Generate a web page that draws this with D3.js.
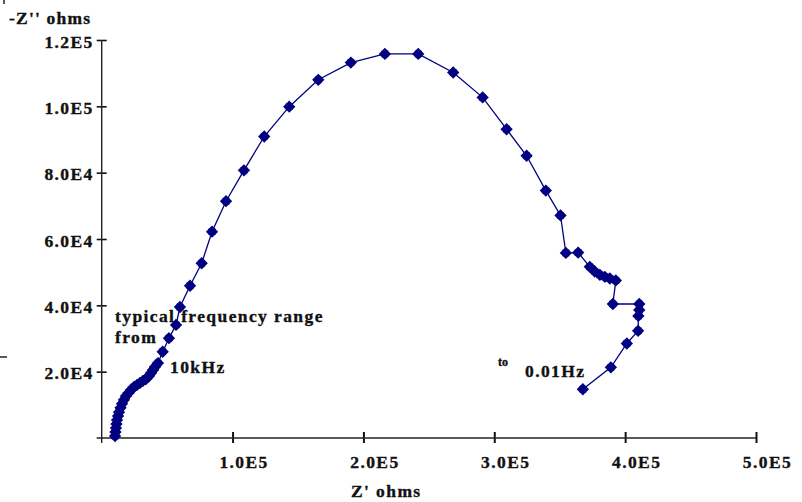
<!DOCTYPE html>
<html>
<head>
<meta charset="utf-8">
<script src="https://cdn.jsdelivr.net/npm/d3@7"></script>
<style>
  body { margin: 0; background: #fff; }
  text { font-family: "Liberation Serif", "Times New Roman", serif; font-weight: bold; fill: #111; stroke: #111; stroke-width: 0.35px; }
</style>
</head>
<body>
<div class="chart"></div>
<script>
// Nyquist plot, Z' vs -Z'' (ohms), from 10kHz down to 0.01Hz
var zReal = [10200, 10500, 10900, 11300, 11700, 12500, 13200, 14400, 15500, 17000,
             18600, 20500, 22400, 24700, 27000, 29300, 31500, 33800, 36100, 37700,
             39200, 40700, 43000, 46600, 51400, 56800, 59800, 67500, 76400, 84300,
             95000, 108700, 124200, 143300, 165500, 190400, 216400, 241900, 268600, 291100,
             309400, 324700, 339400, 350600, 354700, 364100, 373000, 376800, 380700, 384500,
             388300, 392900, 390600, 410800, 410800, 410100, 409900, 401300, 389100, 367700];
var zImag = [600, 1800, 3000, 4200, 5400, 6600, 7800, 9100, 10300, 11500,
             12700, 13600, 14500, 15400, 16000, 16600, 17200, 17800, 18700, 19600,
             20500, 21400, 22600, 26000, 30100, 34100, 39500, 45900, 52700, 62200,
             71400, 80700, 90900, 99900, 108000, 113200, 115800, 115800, 110200, 102700,
             93100, 85100, 74600, 67100, 55800, 55900, 51600, 50200, 49200, 48600,
             48100, 47500, 40400, 40400, 38600, 36800, 32300, 28500, 21300, 14700];
var xTicks = [1e5, 2e5, 3e5, 4e5, 5e5];
var yTicks = [2e4, 4e4, 6e4, 8e4, 1e5, 1.2e5];

var w = 802, h = 502;
var navy = "#000080";

var svg = d3.select(".chart").append("svg")
            .attr("width", w)
            .attr("height", h);

var x = d3.scaleLinear().domain([0, 5e5]).range([101.7, 756]);
var y = d3.scaleLinear().domain([0, 1.2e5]).range([438, 40]);

var sci = function(d) {
  var e = Math.floor(Math.log10(d));
  return (d / Math.pow(10, e)).toFixed(1) + "E" + e;
};

// axes
var xAxis = svg.append("g")
               .attr("transform", "translate(0," + y(0) + ")")
               .call(d3.axisBottom(x).tickValues(xTicks).tickSize(0).tickFormat(sci));
xAxis.select(".domain").remove();
xAxis.append("line")
     .attr("x1", x(0) - 5).attr("x2", x(5e5))
     .attr("stroke", "#222").attr("stroke-width", 1.4);
xAxis.selectAll(".tick line")
     .attr("y1", -6).attr("y2", 5)
     .attr("stroke", "#111").attr("stroke-width", 2);
xAxis.selectAll(".tick text")
     .attr("x", 11).attr("y", 30).attr("dy", null)
     .style("font-size", "17.5px")
     .attr("letter-spacing", "1.4px")
     .attr("font-family", null).attr("font-size", null);

var yAxis = svg.append("g")
               .attr("transform", "translate(" + x(0) + ",0)")
               .call(d3.axisLeft(y).tickValues(yTicks).tickSize(0).tickFormat(sci));
yAxis.select(".domain").remove();
yAxis.append("line")
     .attr("y1", y(0) + 5).attr("y2", y(1.2e5))
     .attr("stroke", "#222").attr("stroke-width", 1.4);
yAxis.selectAll(".tick line")
     .attr("x1", -5).attr("x2", 5)
     .attr("stroke", "#111").attr("stroke-width", 1.6);
yAxis.selectAll(".tick text")
     .attr("x", -8).attr("dy", "0.4em")
     .style("font-size", "17.5px")
     .attr("letter-spacing", "1.4px")
     .attr("font-family", null).attr("font-size", null);

// axis titles
svg.append("text").attr("x", 9).attr("y", 24)
   .style("font-size", "17.5px").attr("letter-spacing", "1.2px")
   .text("-Z'' ohms");
svg.append("text").attr("x", 351).attr("y", 497)
   .style("font-size", "17.5px").attr("letter-spacing", "1.4px")
   .text("Z' ohms");

// curve
var pts = zReal.map(function(d, i) { return [d, zImag[i]]; });
var line = d3.line().x(function(d) { return x(d[0]); }).y(function(d) { return y(d[1]); });

svg.append("path")
   .datum(pts)
   .attr("d", line)
   .attr("fill", "none")
   .attr("stroke", navy)
   .attr("stroke-width", 1.3);

// excel-like diamond marker: rotated square with a small square behind it
var diamond = d3.symbol().type(d3.symbolSquare).size(76);
var blob = d3.symbol().type(d3.symbolSquare).size(46);
var marks = svg.selectAll(".pt")
   .data(pts)
   .enter()
   .append("g")
   .attr("class", "pt")
   .attr("transform", function(d) { return "translate(" + x(d[0]) + "," + y(d[1]) + ")"; });
marks.append("path")
   .attr("d", diamond)
   .attr("transform", "rotate(45)")
   .attr("fill", navy);
marks.append("path")
   .attr("d", blob)
   .attr("fill", navy);

// annotations
svg.append("text").attr("x", 115).attr("y", 322)
   .style("font-size", "17.5px").attr("letter-spacing", "1.4px")
   .text("typical frequency range");
svg.append("text").attr("x", 115).attr("y", 343)
   .style("font-size", "17.5px").attr("letter-spacing", "1.4px")
   .text("from");
svg.append("text").attr("x", 170).attr("y", 373)
   .style("font-size", "17.5px").attr("letter-spacing", "1.4px")
   .text("10kHz");
svg.append("text").attr("x", 498).attr("y", 366)
   .style("font-size", "12px")
   .text("to");
svg.append("text").attr("x", 525).attr("y", 377)
   .style("font-size", "17.5px").attr("letter-spacing", "1.4px")
   .text("0.01Hz");

// stray marks at the left edge
svg.append("line").attr("x1", 4).attr("x2", 4).attr("y1", 0).attr("y2", 4)
   .attr("stroke", "#222").attr("stroke-width", 1.5);
svg.append("line").attr("x1", 0).attr("x2", 7).attr("y1", 357).attr("y2", 357)
   .attr("stroke", "#222").attr("stroke-width", 1.5);
</script>
</body>
</html>
